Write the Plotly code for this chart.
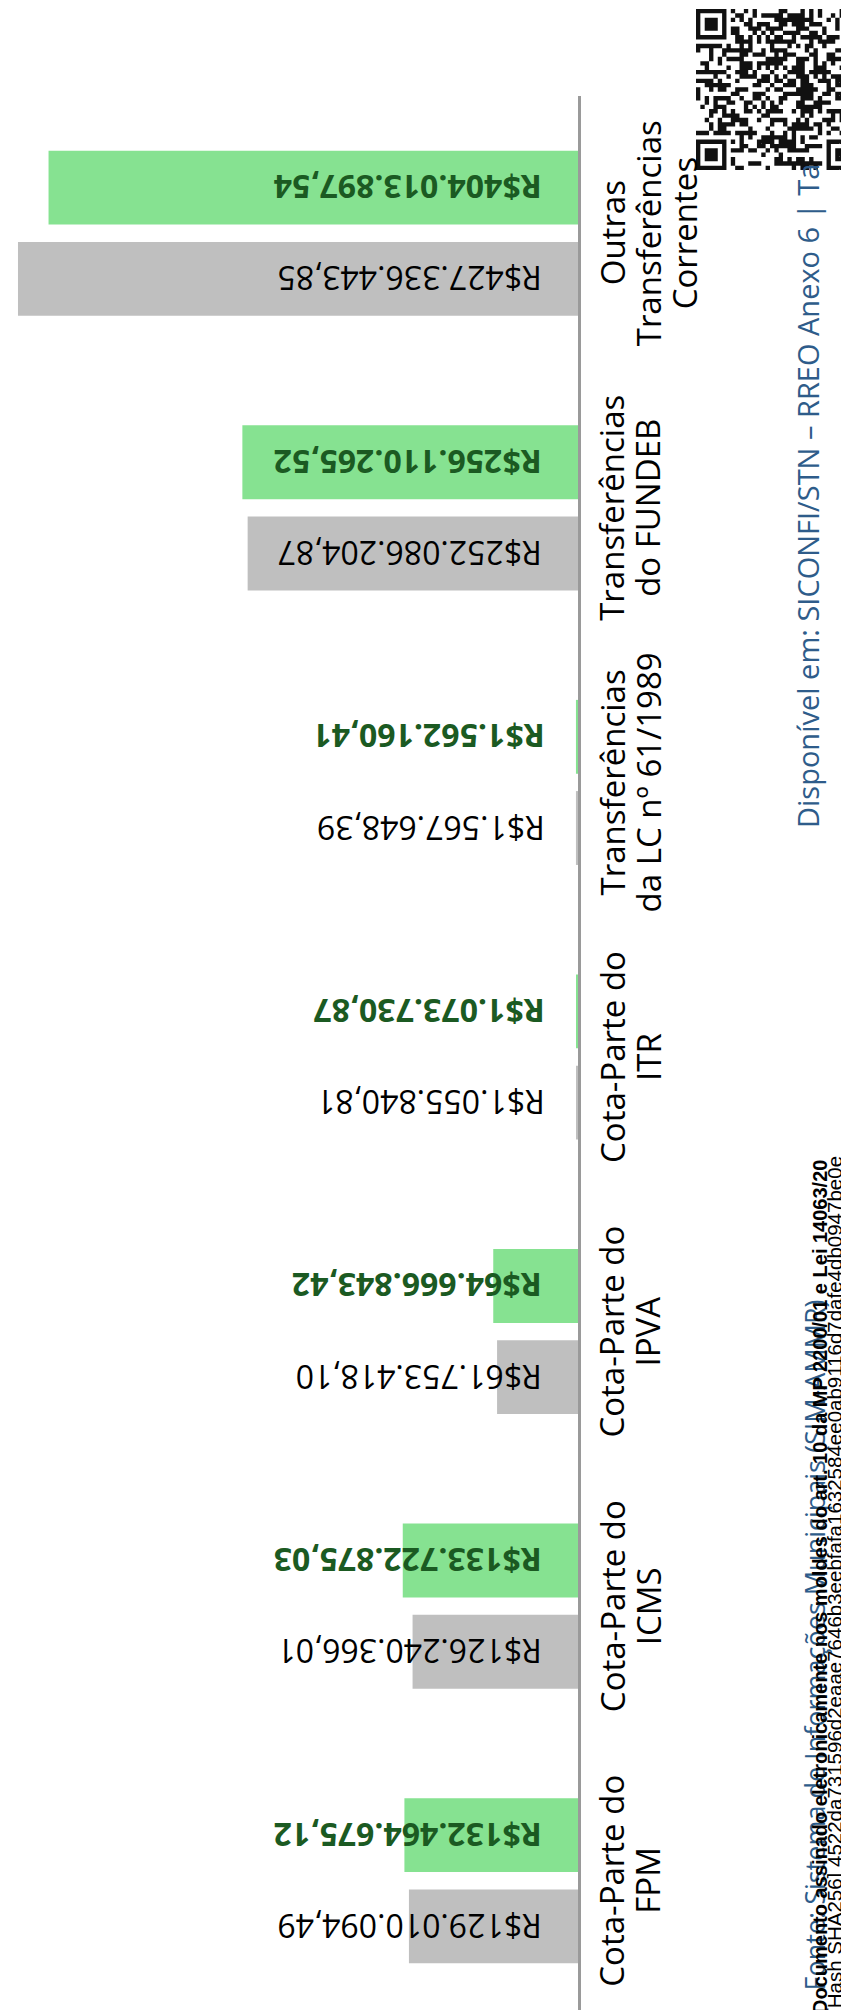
import plotly.graph_objects as go

# ---------------- data ----------------
categories = [
    "Cota-Parte do<br>FPM",
    "Cota-Parte do<br>ICMS",
    "Cota-Parte do<br>IPVA",
    "Cota-Parte do<br>ITR",
    "Transferências<br>da LC nº 61/1989",
    "Transferências<br>do FUNDEB",
    "Outras<br>Transferências<br>Correntes",
]
prev_values = [129010094.49, 126240366.01, 61753418.10, 1055840.81,
               1567648.39, 252086204.87, 427336443.85]
curr_values = [132464675.12, 133722875.03, 64666843.42, 1073730.87,
               1562160.41, 256110265.52, 404013897.54]

source_text = "Fonte: Sistema de Informações Municipais (SIM-AMMR)"
available_text = "Disponível em: SICONFI/STN – RREO Anexo 6 | Ta"
signed_text = "Documento assinado eletronicamente nos moldes do art. 10 da MP 2200/01 e Lei 14063/20"
hash_value = "4522da731596d2eaae7646b3eebfafa1632584ee0ab9116d7dafe4db0947be0e"
hash_text = "[Hash SHA256] " + hash_value

# ---------------- styles ----------------
W, H = 849, 2010
M_L, M_R, M_T, M_B = 0, 279, 88, 0
PLOT_W = W - M_L - M_R
PLOT_H = H - M_T - M_B
PX_PER_REAL = 1.3105e-6  # pixels per R$

prev_color = "#bfbfbf"
curr_color = "#86e291"
green_text = "#1b5a22"
blue_text = "#2e5c8a"
PAD = "\u00a0" * 4
LABEL_COLS = [604, 640, 676]   # pixel columns for the category label lines


def brl(v):
    s = f"{v:,.2f}".replace(",", "X").replace(".", ",").replace("X", ".")
    return "R$" + s


def px_x(px):
    return (px - M_L) / PLOT_W


def px_y(py):
    return (H - M_B - py) / PLOT_H


fig = go.Figure()
fig.add_trace(go.Bar(
    y=categories, x=prev_values, orientation="h",
    marker=dict(color=prev_color, line=dict(width=0)),
    text=[PAD + brl(v) for v in prev_values],
    textposition="inside", insidetextanchor="start", textangle=180,
    constraintext="none",
    textfont=dict(family="Open Sans", size=32, color="black"),
    hoverinfo="skip", name="anterior",
))
fig.add_trace(go.Bar(
    y=categories, x=curr_values, orientation="h",
    marker=dict(color=curr_color, line=dict(width=0)),
    text=[PAD + brl(v) for v in curr_values],
    textposition="inside", insidetextanchor="start", textangle=180,
    constraintext="none",
    textfont=dict(family="Open Sans", size=32, color=green_text, weight="bold"),
    hoverinfo="skip", name="atual",
))

fig.update_layout(
    width=W, height=H,
    margin=dict(l=M_L, r=M_R, t=M_T, b=M_B, pad=0),
    paper_bgcolor="white", plot_bgcolor="white",
    barmode="group", bargap=0.3357, bargroupgap=0.19,
    showlegend=False,
    xaxis=dict(range=[PLOT_W / PX_PER_REAL, 0], visible=False, fixedrange=True),
    yaxis=dict(
        type="category", categoryorder="array", categoryarray=categories,
        range=[-0.5, 6.5], side="right",
        showline=True, linecolor="#9a9a9a", linewidth=2.5,
        showgrid=False, zeroline=False, ticks="", showticklabels=False,
        automargin=False, fixedrange=True,
    ),
)

annotations = []
# category labels, one annotation per line, placed on the category axis
for cat in categories:
    for j, line in enumerate(cat.split("<br>")):
        annotations.append(dict(
            text=line, x=px_x(LABEL_COLS[j]), xref="paper", y=cat, yref="y",
            xanchor="center", yanchor="middle", textangle=-90, showarrow=False,
            font=dict(family="Open Sans", size=33, color="black")))

annotations += [
    dict(text=available_text, x=px_x(799), y=px_y(822), xref="paper", yref="paper",
         xanchor="center", yanchor="bottom", textangle=-90, showarrow=False,
         font=dict(family="Open Sans", size=29, color=blue_text)),
    dict(text=source_text, x=px_x(806), y=px_y(1290), xref="paper", yref="paper",
         xanchor="center", yanchor="top", textangle=-90, showarrow=False,
         font=dict(family="Open Sans", size=27, color=blue_text)),
    dict(text="<b>" + signed_text + "</b>", x=px_x(812), y=px_y(2008), xref="paper", yref="paper",
         xanchor="center", yanchor="bottom", textangle=-90, showarrow=False,
         font=dict(family="Liberation Sans", size=20, color="black")),
    dict(text=hash_text, x=px_x(826), y=px_y(2008), xref="paper", yref="paper",
         xanchor="center", yanchor="bottom", textangle=-90, showarrow=False,
         font=dict(family="Liberation Sans", size=20.5, color="black")),
]
fig.update_layout(annotations=annotations)

# ---------------- QR-like seal (decorative) ----------------
N = 37
QX0, QY0, QS = 688, 1, 161
mod = QS / N
bits = bin(int(hash_value, 16))[2:].zfill(256)


def finder(r, c, r0, c0):
    rr, cc = r - r0, c - c0
    if not (0 <= rr < 7 and 0 <= cc < 7):
        return None
    if rr in (0, 6) or cc in (0, 6):
        return True
    if 2 <= rr <= 4 and 2 <= cc <= 4:
        return True
    return False


def near_finder(r, c, r0, c0):
    return (r0 - 1 <= r <= r0 + 7) and (c0 - 1 <= c <= c0 + 7)


finders = [(0, 0), (N - 7, 0), (N - 7, N - 7)]
path = []
for r in range(N):
    for c in range(N):
        dark = None
        for (r0, c0) in finders:
            f = finder(r, c, r0, c0)
            if f is not None:
                dark = f
                break
            if near_finder(r, c, r0, c0):
                dark = False
                break
        if dark is None:
            k = (r * N + c)
            dark = (bits[k % 256] == "1") ^ (bits[(k * 7 + r) % 256] == "1")
        if dark:
            x0 = px_x(QX0 + c * mod)
            x1 = px_x(QX0 + (c + 1) * mod)
            y0 = px_y(QY0 + r * mod)
            y1 = px_y(QY0 + (r + 1) * mod)
            path.append(f"M{x0:.5f},{y0:.5f}H{x1:.5f}V{y1:.5f}H{x0:.5f}Z")

fig.add_shape(type="rect", xref="paper", yref="paper",
              x0=px_x(QX0 - 2), x1=px_x(QX0 + QS + 2),
              y0=px_y(QY0 + QS + 3), y1=px_y(0),
              fillcolor="white", line=dict(width=0), layer="above")
fig.add_shape(type="path", xref="paper", yref="paper", path="".join(path),
              fillcolor="#111111", line=dict(width=0), layer="above")

fig.write_html("out.html")
